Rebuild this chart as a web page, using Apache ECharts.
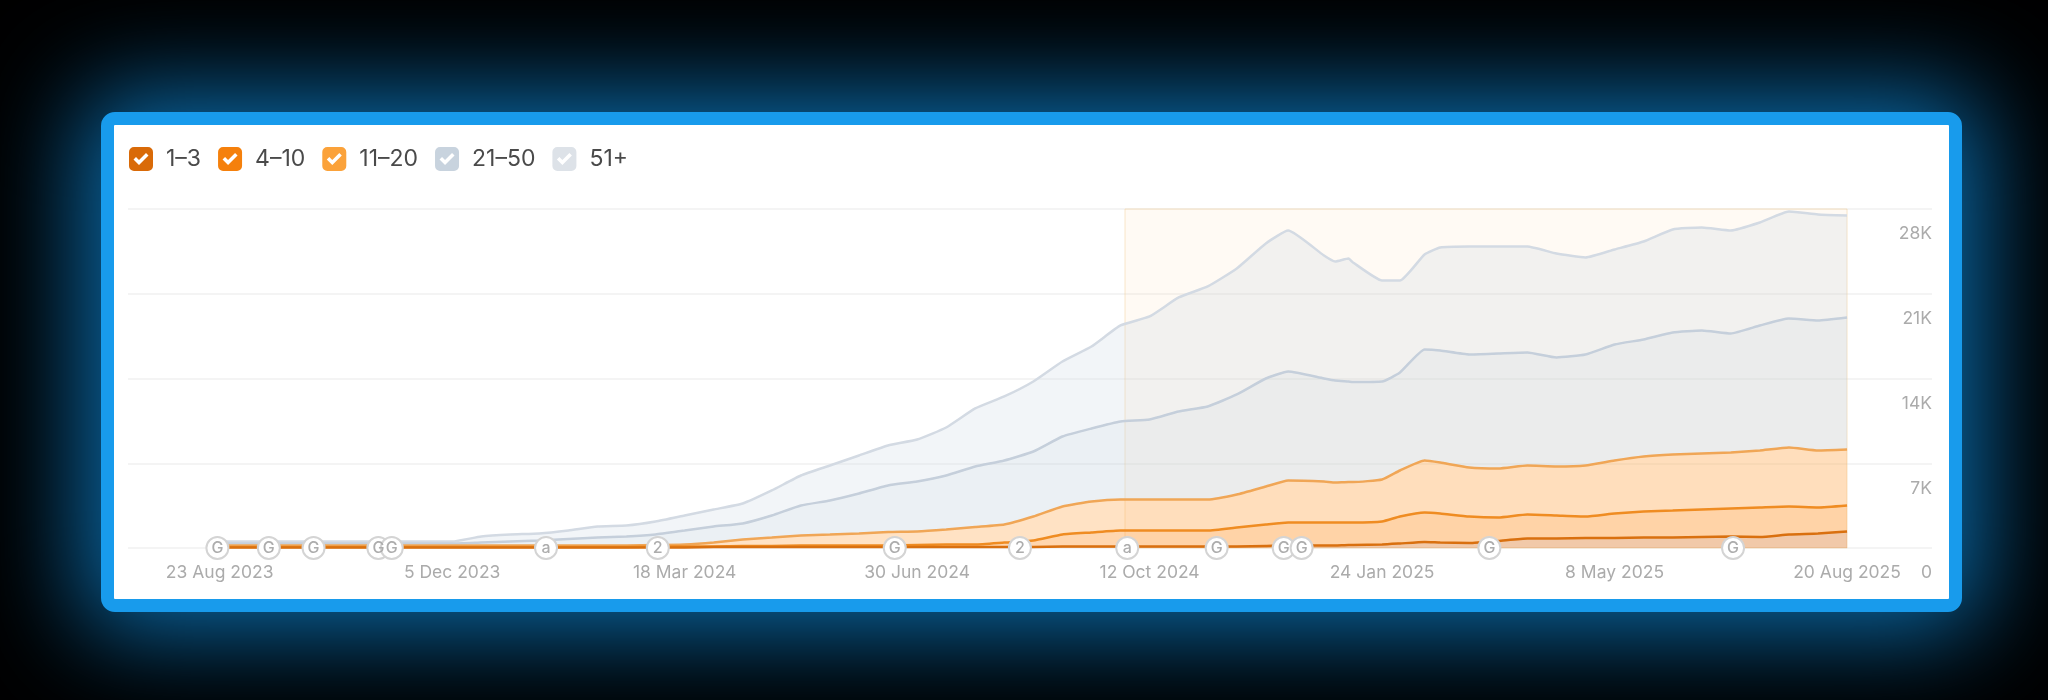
<!DOCTYPE html>
<html>
<head>
<meta charset="utf-8">
<style>
  html, body { margin: 0; width: 2048px; height: 700px; background: #000; overflow: hidden; }
  #frame {
    position: absolute; left: 101px; top: 112px; width: 1861px; height: 500px;
    box-sizing: border-box; border: 13px solid #189bec; border-radius: 14px;
    background: #fff; box-shadow: 0 0 100px 20px #0b6cab;
  }
  #chart { position: absolute; left: 0; top: 0; width: 2048px; height: 700px; }
</style>
<script src="https://cdn.jsdelivr.net/npm/echarts@6/dist/echarts.min.js"></script>
</head>
<body>
<div id="frame"></div>
<div id="chart"></div>
<script>
const dates = [
    '2023-08-23', '2023-09-05', '2023-09-18', '2023-10-01', '2023-10-14', '2023-10-27', '2023-11-09', '2023-11-22',
    '2023-12-05', '2023-12-18', '2023-12-31', '2024-01-13', '2024-01-26', '2024-02-08', '2024-02-21', '2024-03-05',
    '2024-03-18', '2024-03-31', '2024-04-13', '2024-04-26', '2024-05-09', '2024-05-22', '2024-06-04', '2024-06-17',
    '2024-06-30', '2024-07-13', '2024-07-26', '2024-08-08', '2024-08-21', '2024-09-03', '2024-09-16', '2024-09-29',
    '2024-10-12', '2024-10-25', '2024-11-07', '2024-11-20', '2024-12-03', '2024-12-13', '2024-12-29', '2025-01-03',
    '2025-01-09', '2025-01-11', '2025-01-24', '2025-02-01', '2025-02-12', '2025-02-19', '2025-03-04', '2025-03-17',
    '2025-03-30', '2025-04-12', '2025-04-25', '2025-05-08', '2025-05-21', '2025-06-03', '2025-06-16', '2025-06-29',
    '2025-07-12', '2025-07-25', '2025-08-07', '2025-08-20'
];
const pos1to3 = [
    41, 41, 41, 41, 41, 41, 41, 41, 41, 41, 41, 41, 41, 41, 41, 41,
    41, 83, 83, 83, 83, 83, 83, 83, 83, 83, 83, 83, 83, 124, 124, 124,
    124, 124, 124, 124, 165, 207, 207, 207, 248, 248, 289, 372, 496, 454,
    413, 578, 785, 785, 826, 826, 867, 867, 909, 950, 909, 1115, 1198, 1363
];
const pos4to10 = [
    41, 41, 41, 41, 41, 41, 41, 41, 41, 41, 41, 41, 41, 41, 41, 66,
    83, 41, 83, 83, 124, 124, 124, 124, 165, 207, 207, 372, 537, 991, 1156, 1322,
    1322, 1322, 1322, 1569, 1776, 1900, 1900, 1900, 1859, 1859, 1900, 2230, 2437, 2395,
    2189, 1941, 1982, 1900, 1776, 2024, 2148, 2230, 2272, 2313, 2437, 2313, 2148, 2148
];
const pos11to20 = [
    124, 124, 124, 124, 124, 124, 124, 124, 124, 124, 124, 124, 124, 124, 124, 140,
    165, 330, 537, 702, 826, 909, 991, 1115, 1115, 1239, 1446, 1487, 1982, 2313, 2561, 2561,
    2561, 2561, 2561, 2726, 3139, 3469, 3387, 3304, 3345, 3345, 3469, 3800, 4295, 4213,
    4047, 4047, 4047, 4047, 4213, 4378, 4543, 4626, 4626, 4626, 4708, 4873, 4708, 4626
];
const pos21to50 = [
    165, 165, 165, 165, 165, 165, 165, 165, 165, 248, 330, 413, 537, 661, 743, 867,
    1156, 1322, 1322, 1817, 2478, 2808, 3304, 3841, 4130, 4460, 4997, 5286, 5369, 5782, 6030, 6443,
    6608, 7269, 7682, 8260, 8921, 9003, 8508, 8425, 8301, 8260, 8095, 8095, 9169, 9251,
    9334, 9499, 9334, 9003, 9169, 9582, 9664, 10077, 10160, 9829, 10325, 10655, 10738, 10903
];
const pos51plus = [
    165, 165, 165, 165, 165, 165, 165, 165, 165, 496, 578, 578, 702, 909, 909, 1074,
    1239, 1404, 1652, 2065, 2478, 2891, 3139, 3304, 3469, 3965, 4791, 5286, 5782, 6195, 6773, 7930,
    8508, 9416, 9912, 10408, 11151, 11647, 10160, 9829, 10160, 9871, 8343, 7599, 7847, 8508,
    8921, 8838, 8756, 8590, 8012, 7847, 8095, 8508, 8508, 8508, 8508, 8838, 8756, 8425
];
const tickDates = ['2023-08-23', '2023-12-05', '2024-03-18', '2024-06-30', '2024-10-12', '2025-01-24', '2025-05-08', '2025-08-20'];
const markerDates = [
    '2023-08-22', '2023-09-14', '2023-10-04', '2023-11-02', '2023-11-08', '2024-01-16', '2024-03-06', '2024-06-20',
    '2024-08-15', '2024-10-02', '2024-11-11', '2024-12-11', '2024-12-19', '2025-03-13', '2025-06-30'
];
const markerLabels = ['G', 'G', 'G', 'G', 'G', 'a', '2', 'G', '2', 'a', 'G', 'G', 'G', 'G', 'G'];

const months = ['Jan', 'Feb', 'Mar', 'Apr', 'May', 'Jun', 'Jul', 'Aug', 'Sep', 'Oct', 'Nov', 'Dec'];
const toTime = (d) => +new Date(d + 'T12:00:00');
const dateFormatter = (value) => {
    const d = new Date(value);
    return d.getDate() + ' ' + months[d.getMonth()] + ' ' + d.getFullYear();
};

// rounded box with the tick cut out, so the white behind shows through
const checkIcon = 'path://M5 0H19A5 5 0 0 1 24 5V19A5 5 0 0 1 19 24H5A5 5 0 0 1 0 19V5A5 5 0 0 1 5 0Z' +
    'M4.5 12.5L10 18L19.5 8.5L17 6L10 13L7 10Z';

const bands = [
    { name: '1–3', data: pos1to3, box: '#d96a08', line: '#d9700f', fill: 'rgba(215,110,30,0.35)', z: 6 },
    { name: '4–10', data: pos4to10, box: '#f5800c', line: '#ef8c22', fill: 'rgba(255,140,30,0.36)', z: 5 },
    { name: '11–20', data: pos11to20, box: '#fba23a', line: '#f0a656', fill: 'rgba(255,160,60,0.30)', z: 4 },
    { name: '21–50', data: pos21to50, box: '#c8d3de', line: '#c5cfdb', fill: 'rgba(190,205,220,0.30)', z: 3 },
    { name: '51+', data: pos51plus, box: '#dde2e8', line: '#d3dae3', fill: 'rgba(190,205,220,0.20)', z: 2 }
];

const series = bands.map((b) => ({
    name: b.name,
    type: 'line',
    stack: 'positions',
    // count comes first: the stack runs on the first numeric column, and x is numeric too
    encode: { x: 1, y: 0 },
    data: b.data.map((v, i) => [v, toTime(dates[i])]),
    showSymbol: false,
    smooth: 0.15,
    z: b.z,
    color: b.box,
    lineStyle: { color: b.line, width: 2.5 },
    areaStyle: { color: b.fill, opacity: 1 }
}));

// highlighted period, drawn over the bands
series.push({
    type: 'line',
    data: [],
    z: 7,
    silent: true,
    markArea: {
        silent: true,
        itemStyle: { color: 'rgba(255,170,60,0.06)', borderColor: 'rgba(240,200,140,0.45)', borderWidth: 1 },
        data: [[{ xAxis: toTime('2024-10-01') }, { xAxis: toTime('2025-08-20') }]]
    }
});

series.push({
    type: 'scatter',
    data: markerDates.map((d, i) => [toTime(d), 0, markerLabels[i]]),
    symbol: 'circle',
    symbolSize: 22,
    z: 8,
    clip: false,
    itemStyle: { color: '#fff', borderColor: '#d4d4d4', borderWidth: 2, opacity: 1 },
    label: {
        show: true,
        position: 'inside',
        formatter: (p) => p.data[2],
        color: '#adadad',
        fontFamily: 'Inter',
        fontSize: 16,
        fontWeight: 500
    }
});

const chart = echarts.init(document.getElementById('chart'));
chart.setOption({
    animation: false,
    backgroundColor: 'transparent',
    textStyle: { fontFamily: 'Inter' },
    legend: {
        left: 129,
        top: 147,
        padding: 0,
        selectedMode: false,
        itemWidth: 24,
        itemHeight: 24,
        itemGap: 17,
        textStyle: { fontFamily: 'Inter', fontSize: 23, color: '#4a4a4a', padding: [0, 0, 0, 8] },
        data: bands.map((b) => ({ name: b.name, icon: checkIcon, itemStyle: { color: b.box } }))
    },
    grid: { left: 128, right: 116, top: 209, bottom: 152 },
    xAxis: {
        type: 'value',
        min: toTime('2023-07-13'),
        max: toTime('2025-09-27'),
        axisLine: { show: false },
        axisTick: { show: false },
        splitLine: { show: false },
        axisLabel: {
            customValues: tickDates.map(toTime),
            formatter: dateFormatter,
            color: '#ababab',
            fontFamily: 'Inter',
            fontSize: 17.5,
            margin: 16,
            hideOverlap: false
        }
    },
    yAxis: {
        type: 'value',
        position: 'right',
        min: 0,
        max: 28000,
        interval: 7000,
        axisLine: { show: false },
        axisTick: { show: false },
        splitLine: { lineStyle: { color: '#f0f0f0', width: 1.5 } },
        axisLabel: {
            inside: true,
            margin: 0,
            align: 'right',
            verticalAlign: 'top',
            padding: [16, 0, 0, 0],
            color: '#ababab',
            fontFamily: 'Inter',
            fontSize: 17.5,
            formatter: (value) => (value === 0 ? '0' : value / 1000 + 'K')
        }
    },
    series: series
});
</script>
</body>
</html>
